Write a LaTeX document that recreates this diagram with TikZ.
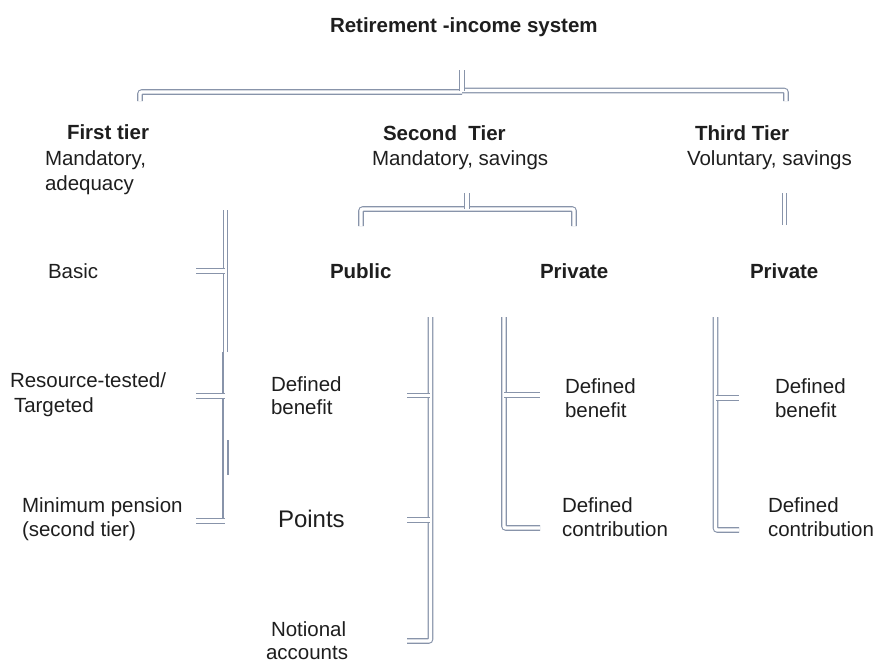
\documentclass[tikz,border=0pt]{standalone}
\usepackage{fontspec}
\setmainfont{Liberation Sans}
\definecolor{lc}{HTML}{8894AA}
\definecolor{txt}{HTML}{1E1E1E}
\begin{document}
\begin{tikzpicture}[x=1pt,y=-1pt,
  lbl/.style={anchor=base west, inner sep=0pt, outer sep=0pt, text=txt, font=\fontsize{20.5}{24}\selectfont},
  blbl/.style={lbl, font=\fontsize{20.5}{24}\selectfont\bfseries},
  dl/.style={draw=lc, line width=1.1pt, double=white, double distance=3.4pt, rounded corners=2pt},
  sl/.style={draw=lc, line width=1.1pt}]
\useasboundingbox (0,0) rectangle (881,664);

% title
\node[blbl] (title) at (330,32) {Retirement -income system};

% tier headings
\node[blbl] (t1) at (67,139) {First tier};
\node[lbl] (t1a) at (45,165) {Mandatory,};
\node[lbl] (t1b) at (45,190) {adequacy};
\node[blbl] (t2) at (383,140) {Second\ \ Tier};
\node[lbl] (t2a) at (372,165) {Mandatory, savings};
\node[blbl] (t3) at (695,140) {Third Tier};
\node[lbl] (t3a) at (687,165) {Voluntary, savings};

% first tier items
\node[lbl] (basic) at (48,278) {Basic};
\node[lbl] (res1) at (10,387) {Resource-tested/};
\node[lbl] (res2) at (14,412) {Targeted};
\node[lbl] (min1) at (22,512) {Minimum pension};
\node[lbl] (min2) at (22,536) {(second tier)};

% second tier
\node[blbl] (pub) at (330,278) {Public};
\node[blbl] (priv2) at (540,278) {Private};
\node[lbl] (pdb1) at (271,391) {Defined};
\node[lbl] (pdb2) at (271,414) {benefit};
\node[lbl, font=\fontsize{24}{28}\selectfont] (pts) at (278,527) {Points};
\node[lbl] (na1) at (271,636) {Notional};
\node[lbl] (na2) at (266,659) {accounts};
\node[lbl] (sdb1) at (565,393) {Defined};
\node[lbl] (sdb2) at (565,417) {benefit};
\node[lbl] (sdc1) at (562,512) {Defined};
\node[lbl] (sdc2) at (562,536) {contribution};

% third tier
\node[blbl] (priv3) at (750,278) {Private};
\node[lbl] (tdb1) at (775,393) {Defined};
\node[lbl] (tdb2) at (775,417) {benefit};
\node[lbl] (tdc1) at (768,512) {Defined};
\node[lbl] (tdc2) at (768,536) {contribution};

% top bracket
\draw[dl] (140,101) -- (140,92) -- (462,92);
\draw[dl] (462,90.5) -- (786,90.5) -- (786,101);
\draw[dl] (462,70) -- (462,91);

% second tier bracket
\draw[dl] (361,226) -- (361,209) -- (574,209) -- (574,226);
\draw[dl] (467,193) -- (467,209);

% third tier stub
\draw[dl] (784.5,193) -- (784.5,225);

% first tier column
\draw[dl] (225.5,210) -- (225.5,352);
\draw[sl] (223,352) -- (223,522);
\draw[sl] (228,440) -- (228,475);
\draw[dl] (196,271) -- (225,271);
\draw[dl] (196,396) -- (225,396);
\draw[dl] (196,521) -- (225,521);

% public column
\draw[dl] (430.5,317) -- (430.5,641) -- (407,641);
\draw[dl] (407,395.5) -- (430,395.5);
\draw[dl] (407,520) -- (430,520);

% private (second tier) column
\draw[dl] (504,317) -- (504,528) -- (540,528);
\draw[dl] (504,395) -- (540,395);

% private (third tier) column
\draw[dl] (715.5,317) -- (715.5,530) -- (739,530);
\draw[dl] (715.5,398) -- (739,398);
\end{tikzpicture}
\end{document}
